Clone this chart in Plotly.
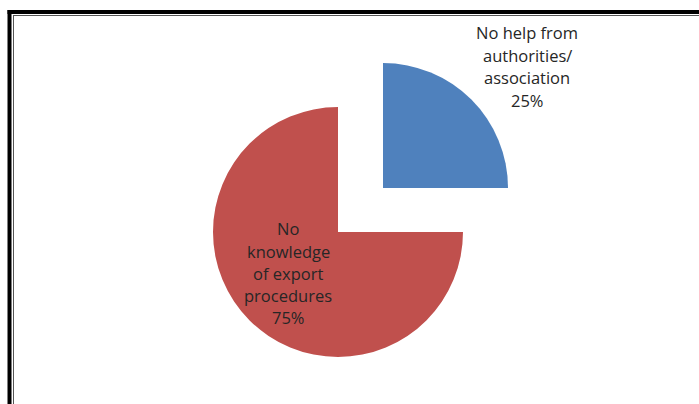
import plotly.graph_objects as go

# Survey result: main export barriers
categories = ["No help from authorities/ association", "No knowledge of export procedures"]
label_lines = [["No help from", "authorities/", "association"],
               ["No", "knowledge", "of export", "procedures"]]
shares = [25, 75]
slice_colors = ["#4F81BD", "#C0504D"]

W, H = 699, 404
R = 125                                   # pie radius in px
pie_centres = [(383, 188), (338, 232)]    # exploded slice centre / main pie centre
label_centres = [(527, 66.5), (288, 273)]
line_gaps = [22.5, 22]                    # label line spacing in px

total = sum(shares)
fig = go.Figure()

# one trace per slice so the small slice can be exploded away from the pie
for i in (1, 0):
    cx, cy = pie_centres[i]
    colors = ["rgba(0,0,0,0)"] * len(shares)
    colors[i] = slice_colors[i]
    fig.add_trace(go.Pie(
        labels=categories,
        values=shares,
        sort=False,
        direction="clockwise",
        rotation=0,
        marker=dict(colors=colors, line=dict(width=0)),
        textinfo="none",
        hoverinfo="skip",
        showlegend=False,
        domain=dict(x=[(cx - R) / W, (cx + R) / W],
                    y=[1 - (cy + R) / H, 1 - (cy - R) / H]),
    ))

# data labels: category + percentage, one annotation per text line
for i, lines in enumerate(label_lines):
    pct = round(shares[i] / total * 100)
    rows = lines + [f"{pct}%"]
    lx, ly = label_centres[i]
    n = len(rows)
    for k, row in enumerate(rows):
        y = ly + (k - (n - 1) / 2) * line_gaps[i]
        fig.add_annotation(
            x=lx / W, y=1 - y / H, xref="paper", yref="paper",
            xanchor="center", yanchor="middle", showarrow=False,
            text=row,
            font=dict(family="Open Sans", size=16.5, color="#262626"),
        )

# double-line frame (top and left edges)
def px_line(x0, y0, x1, y1, width, color):
    fig.add_shape(type="line", xref="paper", yref="paper",
                  x0=x0 / W, x1=x1 / W, y0=1 - y0 / H, y1=1 - y1 / H,
                  line=dict(color=color, width=width))

px_line(7.5, 12, W, 12, 4, "#000000")
px_line(9.5, 10, 9.5, H, 4, "#000000")
px_line(13, 15.5, W, 15.5, 1, "#555555")
px_line(13.5, 15, 13.5, H, 1, "#555555")

fig.update_layout(
    width=W, height=H,
    margin=dict(l=0, r=0, t=0, b=0),
    paper_bgcolor="white", plot_bgcolor="white",
)

fig.write_html("out.html")
